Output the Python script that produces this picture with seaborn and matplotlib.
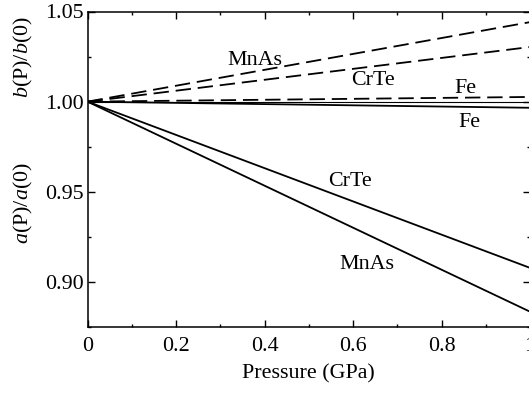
import matplotlib
matplotlib.use("Agg")
import matplotlib.pyplot as plt
import seaborn as sns
import pandas as pd
from matplotlib.ticker import MultipleLocator, FixedLocator, FixedFormatter

sns.set_theme(style="ticks")
plt.rcParams['font.family'] = ['Liberation Serif', 'DejaVu Serif']
plt.rcParams['mathtext.fontset'] = 'custom'
plt.rcParams['mathtext.rm'] = 'Liberation Serif'
plt.rcParams['mathtext.it'] = 'Liberation Serif:italic'

# Data (pressure in GPa, ratios)
pressure = [0.0, 1.0]
b_mnas = [1.0, 1.0441]
b_crte = [1.0, 1.0303]
b_fe = [1.0, 1.0026]
a_fe = [1.0, 0.9966]
a_crte = [1.0, 0.9078]
a_mnas = [1.0, 0.8835]

x_ticks = [0, 0.2, 0.4, 0.6, 0.8, 1.0]
x_ticklabels = ["0", "0.2", "0.4", "0.6", "0.8", "1"]
y_ticks = [0.90, 0.95, 1.00, 1.05]
y_ticklabels = ["0.90", "0.95", "1.00", "1.05"]

labels = [  # text, x, y
    ("MnAs", 0.379, 1.0229),
    ("CrTe", 0.645, 1.0119),
    ("Fe", 0.853, 1.0075),
    ("Fe", 0.864, 0.9887),
    ("CrTe", 0.593, 0.9557),
    ("MnAs", 0.631, 0.9097),
]

fs = 15.8
fig = plt.figure(figsize=(5.29, 3.93), dpi=100)
ax = fig.add_axes([87.5 / 529, (393 - 327) / 393, (530 - 87.5) / 529, (327 - 11.5) / 393])

dash = (0, (8.5, 3.8))
lw = 1.3
for vals, ls in [(b_mnas, dash), (b_crte, dash), (b_fe, dash),
                 (a_fe, '-'), (a_crte, '-'), (a_mnas, '-')]:
    df = pd.DataFrame({"P": pressure, "v": vals})
    sns.lineplot(data=df, x="P", y="v", ax=ax, color="black", lw=lw, linestyle=ls)

ax.axhline(1.0, color="black", lw=0.8)

for t, x, y in labels:
    ax.text(x, y, t, ha="center", va="center", fontsize=fs, color="black")

ax.set_xlim(0, 1.0)
ax.set_ylim(0.875, 1.05)
ax.xaxis.set_major_locator(FixedLocator(x_ticks))
ax.xaxis.set_major_formatter(FixedFormatter(x_ticklabels))
ax.xaxis.set_minor_locator(MultipleLocator(0.1))
ax.yaxis.set_major_locator(FixedLocator(y_ticks))
ax.yaxis.set_major_formatter(FixedFormatter(y_ticklabels))
ax.yaxis.set_minor_locator(MultipleLocator(0.025))
ax.tick_params(which="both", direction="in", top=True, right=True, colors="black",
               labelsize=fs, width=1.0)
ax.tick_params(which="major", length=5)
ax.tick_params(which="minor", length=2.5)
ax.tick_params(axis="x", pad=7)
ax.tick_params(axis="y", pad=3)
for s in ax.spines.values():
    s.set_visible(True)
    s.set_color("black")
    s.set_linewidth(1.1)

ax.set_xlabel("Pressure (GPa)", fontsize=fs, color="black", labelpad=6)
ax.set_ylabel("")

fig.text(23 / 529, 1 - 57 / 393, r"$b$(P)/$b$(0)", rotation=90, ha="center", va="center",
         fontsize=fs, color="black")
fig.text(23 / 529, 1 - 203 / 393, r"$a$(P)/$a$(0)", rotation=90, ha="center", va="center",
         fontsize=fs, color="black")

fig.savefig("out.png", dpi=100)
